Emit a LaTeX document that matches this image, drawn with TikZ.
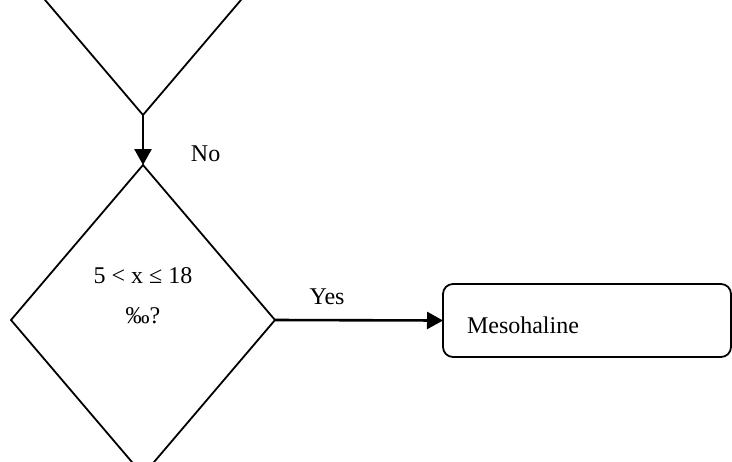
\documentclass[tikz,border=0pt]{standalone}
\usepackage{fontspec}
\setmainfont{Liberation Serif}
\usetikzlibrary{arrows.meta,positioning,shapes.geometric}

\tikzset{
  decision/.style={draw,diamond,line width=0.9pt,minimum width=132pt,minimum height=155pt,inner sep=0pt,outer sep=0pt},
  result/.style={draw,rectangle,rounded corners=5pt,line width=0.9pt,minimum height=36.5pt,text width=120pt,inner xsep=12pt,outer sep=0pt,align=left,text height=12.5pt,text depth=0pt},
  flow/.style={-{Triangle[length=8pt,width=8.5pt]},line width=1.3pt}
}

\begin{document}
\begin{tikzpicture}[x=0.5pt,y=-0.5pt,font=\fontsize{12}{14}\selectfont]
  \useasboundingbox (0,0) rectangle (732,461);
  \clip (0,0) rectangle (732,461);
  % decisions
  \node[decision] (prev) at (143,-40) {};
  \node[decision] (meso) at (143,320) {};
  \node[align=center,font=\fontsize{12}{20}\selectfont,anchor=base] (mesoq) at (143,323) {5 < x ≤ 18\\‰?};
  % outcome
  \node[result,anchor=west] (mesobox) at (443,320.5) {Mesohaline};
  % connectors
  \draw[flow] (prev.south) -- node[pos=0.78,right=20pt] {No} (meso.north);
  \draw[flow] (meso.east) -- node[pos=0.31,above=3.5pt] {Yes} (mesobox.west);
\end{tikzpicture}
\end{document}
